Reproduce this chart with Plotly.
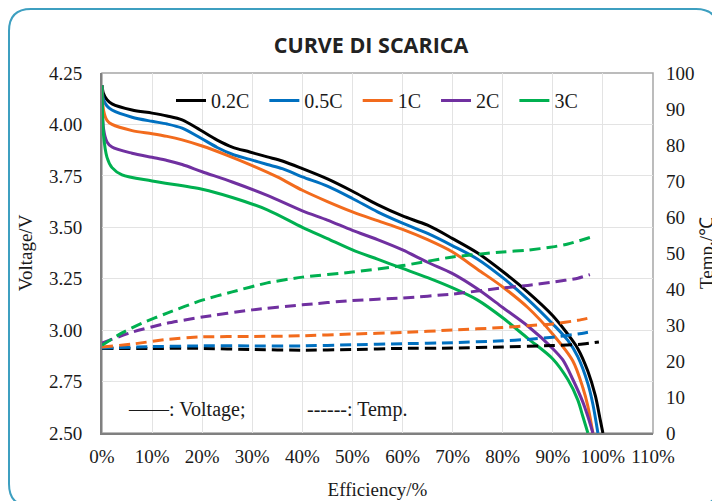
import plotly.graph_objects as go

# ---------------- data ----------------
series_names = ["0.2C", "0.5C", "1C", "2C", "3C"]
series_colors = ["#000000", "#0070c0", "#f26b1d", "#7030a0", "#00b050"]

# Voltage curves (x = efficiency %, y = V)
v02_x = [0, 0.3, 1, 2, 6, 10, 13, 16, 19.6, 23, 26, 29.5, 33, 36, 40, 45, 50, 55, 60, 65, 70, 75, 80, 85, 90, 93, 95, 97, 98.5, 99.5, 100]
v02_y = [4.19, 4.15, 4.12, 4.10, 4.07, 4.055, 4.041, 4.022, 3.973, 3.924, 3.89, 3.866, 3.842, 3.822, 3.785, 3.735, 3.675, 3.61, 3.555, 3.51, 3.445, 3.375, 3.285, 3.185, 3.07, 2.98, 2.91, 2.80, 2.68, 2.56, 2.50]

v05_x = [0, 0.3, 1, 2, 6, 10, 13, 16, 19.6, 23, 26, 29.5, 33, 36, 40, 45, 50, 55, 60, 65, 70, 75, 80, 85, 90, 93, 95, 97, 98, 99]
v05_y = [4.19, 4.12, 4.09, 4.07, 4.035, 4.015, 4.002, 3.982, 3.935, 3.888, 3.855, 3.83, 3.805, 3.785, 3.745, 3.70, 3.64, 3.575, 3.52, 3.47, 3.41, 3.345, 3.255, 3.15, 3.03, 2.95, 2.87, 2.74, 2.64, 2.50]

v1_x = [0, 0.3, 1, 2, 6, 10, 13, 16, 20, 25, 30, 35, 40, 45, 50, 55, 60, 65, 70, 75, 80, 85, 90, 94, 96, 97, 98]
v1_y = [4.19, 4.07, 4.02, 4.00, 3.97, 3.955, 3.942, 3.925, 3.895, 3.85, 3.80, 3.745, 3.68, 3.625, 3.575, 3.532, 3.49, 3.44, 3.38, 3.295, 3.21, 3.11, 2.98, 2.85, 2.72, 2.63, 2.50]

v2_x = [0, 0.3, 1, 2, 6, 10, 13, 16, 20, 26, 33, 40, 45, 50, 55, 60, 65, 70, 75, 80, 85, 90, 92, 94, 96, 97, 98]
v2_y = [4.19, 3.98, 3.915, 3.89, 3.86, 3.84, 3.825, 3.805, 3.77, 3.72, 3.655, 3.58, 3.535, 3.485, 3.44, 3.39, 3.33, 3.275, 3.20, 3.11, 3.02, 2.91, 2.855, 2.76, 2.65, 2.58, 2.50]

v3_x = [0, 0.3, 1, 2, 4, 10, 20, 26, 33, 40, 45, 50, 55, 60, 65, 70, 75, 80, 85, 90, 93, 95, 96, 97]
v3_y = [4.19, 3.95, 3.84, 3.79, 3.755, 3.725, 3.685, 3.645, 3.585, 3.50, 3.445, 3.39, 3.345, 3.30, 3.255, 3.205, 3.146, 3.06, 2.96, 2.86, 2.76, 2.66, 2.58, 2.50]

# Temperature curves (x = efficiency %, y = deg C)
t02_x = [0, 10, 20, 30, 40, 50, 60, 70, 80, 90, 96, 99.2]
t02_y = [23.5, 23.5, 23.5, 23.2, 23.0, 23.2, 23.5, 23.6, 23.9, 24.3, 24.7, 25.3]

t05_x = [0, 10, 20, 30, 40, 50, 60, 70, 80, 85, 90, 95, 97.8]
t05_y = [23.6, 24.0, 24.2, 24.2, 24.2, 24.5, 24.8, 25.1, 25.6, 26.0, 26.6, 27.5, 28.2]

t1_x = [0, 6, 13, 20, 30, 40, 50, 60, 70, 80, 85, 90, 95, 97.4]
t1_y = [23.9, 24.7, 26.0, 26.7, 26.8, 27.0, 27.5, 27.9, 28.6, 29.3, 29.8, 30.3, 31.3, 32.0]

t2_x = [0, 6, 13, 20, 30, 40, 50, 60, 70, 80, 85, 90, 95, 97.4]
t2_y = [25.0, 28.0, 30.5, 32.2, 34.2, 35.6, 36.8, 37.5, 38.6, 40.3, 41.0, 41.9, 43.0, 44.0]

t3_x = [0, 4, 8, 13, 20, 26, 33, 40, 50, 60, 70, 80, 85, 90, 93, 97.4]
t3_y = [24.4, 27.8, 30.5, 33.3, 36.9, 39.2, 41.7, 43.3, 44.7, 46.5, 48.9, 50.3, 50.8, 51.7, 52.5, 54.3]

volt_x = [v02_x, v05_x, v1_x, v2_x, v3_x]
volt_y = [v02_y, v05_y, v1_y, v2_y, v3_y]
temp_x = [t02_x, t05_x, t1_x, t2_x, t3_x]
temp_y = [t02_y, t05_y, t1_y, t2_y, t3_y]

x_ticks = list(range(0, 111, 10))
v_ticks = [2.50, 2.75, 3.00, 3.25, 3.50, 3.75, 4.00, 4.25]
t_ticks = list(range(0, 101, 10))

title_text = "CURVE DI SCARICA"
x_title = "Efficiency/%"
y_title = "Voltage/V"
y2_title = "Temp./℃"
note_voltage = "——: Voltage;"
note_temp = "------: Temp."

# ---------------- figure ----------------
SERIF = "Liberation Serif, Times New Roman, serif"
OFF = 8  # page body margin offset (screen = figure + OFF)
W, H = 720, 501
ML, MT = 102 - OFF, 73 - OFF
PW, PH = 551, 360
MR, MB = W - ML - PW, H - MT - PH

def px(xs):  # screen x -> paper
    return (xs - OFF - ML) / PW

def py(ys):  # screen y -> paper
    return (H - MB - (ys - OFF)) / PH

fig = go.Figure()

for name, col, tx, ty in zip(series_names, series_colors, temp_x, temp_y):
    fig.add_trace(go.Scatter(
        x=tx, y=ty, yaxis="y2", mode="lines", showlegend=False,
        line=dict(color=col, width=3, dash="11px,6px", shape="spline", smoothing=0.6),
        hoverinfo="skip"))

for name, col, vx, vy in zip(series_names, series_colors, volt_x, volt_y):
    fig.add_trace(go.Scatter(
        x=vx, y=vy, mode="lines", name=name + "\u00a0\u00a0",
        line=dict(color=col, width=3, shape="spline", smoothing=0.85)))

# rounded frame (screen coords)
L, R, T, B = px(9), px(718), py(9), py(506)
rx, ry = 22 / PW, 22 / PH
frame = (f"M {L+rx},{T} L {R-rx},{T} Q {R},{T} {R},{T-ry} L {R},{B+ry} "
         f"Q {R},{B} {R-rx},{B} L {L+rx},{B} Q {L},{B} {L},{B+ry} "
         f"L {L},{T-ry} Q {L},{T} {L+rx},{T} Z")

fig.update_layout(
    width=W, height=H,
    margin=dict(l=ML, r=MR, t=MT, b=MB, autoexpand=False),
    paper_bgcolor="white", plot_bgcolor="white",
    font=dict(family=SERIF, size=19, color="#1a1a1a"),
    title=dict(text=title_text, x=px(371), xanchor="center", xref="paper",
               y=1 - (45 - OFF) / H, yanchor="middle", yref="container",
               font=dict(family="Open Sans, Noto Sans, sans-serif", size=21.5, color="#222222", weight="bold")),
    xaxis=dict(range=[0, 110], tickvals=x_ticks, ticktext=[f"{v}%" for v in x_ticks],
               showgrid=True, gridcolor="#e3e3e3", gridwidth=1, zeroline=False, automargin=False,
               showline=True, linecolor="#808080", linewidth=2, ticks="", ticklabelstandoff=5,
               title=dict(text=x_title, standoff=17, font=dict(size=19)),
               tickfont=dict(size=19)),
    yaxis=dict(range=[2.5, 4.25], tickvals=v_ticks, ticktext=[f"{v:.2f}" for v in v_ticks],
               showgrid=True, gridcolor="#e3e3e3", gridwidth=1, zeroline=False, automargin=False,
               showline=True, linecolor="#808080", linewidth=2, ticks="", ticklabelstandoff=14,
               title=dict(text=y_title, standoff=11, font=dict(size=19)),
               tickfont=dict(size=19)),
    yaxis2=dict(range=[0, 100], tickvals=t_ticks, overlaying="y", side="right", automargin=False,
                showgrid=False, zeroline=False, showline=False, ticks="", ticklabelstandoff=12,
                title=dict(text=y2_title, standoff=6, font=dict(size=19)),
                tickfont=dict(size=19)),
    legend=dict(orientation="h", x=px(171), xanchor="left", y=py(81), yanchor="top",
                bgcolor="rgba(0,0,0,0)", font=dict(family=SERIF, size=20, color="#1a1a1a"),
                itemwidth=30, traceorder="normal"),
    shapes=[
        dict(type="rect", xref="paper", yref="paper", x0=0, x1=1, y0=0, y1=1,
             line=dict(color="#a6a6a6", width=1.5), layer="below"),
        dict(type="path", xref="paper", yref="paper", path=frame,
             line=dict(color="#3d9fc0", width=2), fillcolor="rgba(0,0,0,0)", layer="below"),
    ],
    annotations=[
        dict(text=note_voltage, xref="paper", yref="paper", x=px(126), y=py(409),
             xanchor="left", yanchor="middle", showarrow=False,
             font=dict(family=SERIF, size=20, color="#1a1a1a")),
        dict(text=note_temp, xref="paper", yref="paper", x=px(305), y=py(409),
             xanchor="left", yanchor="middle", showarrow=False,
             font=dict(family=SERIF, size=20, color="#1a1a1a")),
    ],
)

fig.write_html("out.html")
